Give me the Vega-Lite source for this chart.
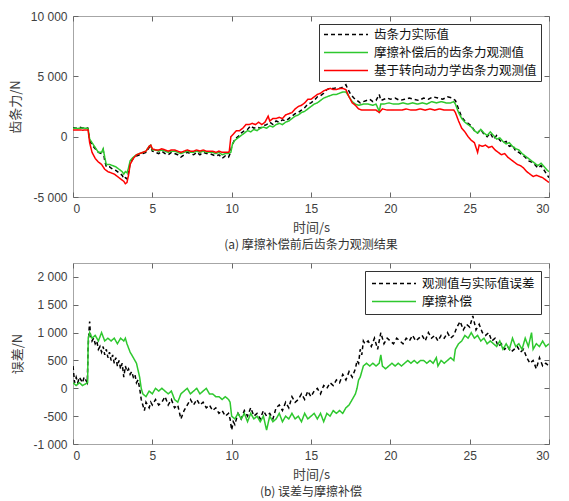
{
  "$schema": "https://vega.github.io/schema/vega-lite/v6.json",
  "padding": {"left": 8, "top": 9, "right": 17, "bottom": 5},
  "background": "white",
  "config": {
    "view": {"stroke": "#a6a6a6", "strokeWidth": 1},
    "axis": {
      "labelFont": "Liberation Sans", "labelFontSize": 12, "labelColor": "#404040",
      "titleFont": "Noto Sans CJK SC", "titleFontSize": 13, "titleFontWeight": "normal", "titleColor": "#404040",
      "domain": false, "grid": false, "tickColor": "#666666", "tickSize": -5, "labelPadding": 11
    },
    "title": {"font": "Noto Sans CJK SC", "fontSize": 12, "fontWeight": "normal", "color": "#333333", "orient": "bottom", "offset": 6},
    "legend": {"labelFont": "Noto Sans CJK SC", "labelFontSize": 12.5, "labelColor": "#111111", "labelLimit": 400}
  },
  "datasets": {
    "top": [
      {"t":0,"v":750,"s":"齿条力实际值"},{"t":0.2,"v":700,"s":"齿条力实际值"},{"t":0.4,"v":780,"s":"齿条力实际值"},{"t":0.6,"v":720,"s":"齿条力实际值"},{"t":0.8,"v":760,"s":"齿条力实际值"},{"t":0.95,"v":700,"s":"齿条力实际值"},{"t":1.05,"v":-300,"s":"齿条力实际值"},{"t":1.2,"v":-700,"s":"齿条力实际值"},{"t":1.4,"v":-1000,"s":"齿条力实际值"},{"t":1.6,"v":-1300,"s":"齿条力实际值"},{"t":1.8,"v":-1400,"s":"齿条力实际值"},{"t":1.9,"v":-1100,"s":"齿条力实际值"},{"t":2.0,"v":-2000,"s":"齿条力实际值"},{"t":2.1,"v":-2500,"s":"齿条力实际值"},{"t":2.3,"v":-2500,"s":"齿条力实际值"},{"t":2.5,"v":-2700,"s":"齿条力实际值"},{"t":2.7,"v":-2800,"s":"齿条力实际值"},{"t":2.9,"v":-3000,"s":"齿条力实际值"},{"t":3.1,"v":-3200,"s":"齿条力实际值"},{"t":3.2,"v":-3500,"s":"齿条力实际值"},{"t":3.3,"v":-3400,"s":"齿条力实际值"},{"t":3.4,"v":-3500,"s":"齿条力实际值"},{"t":3.5,"v":-3000,"s":"齿条力实际值"},{"t":3.6,"v":-2200,"s":"齿条力实际值"},{"t":3.8,"v":-1800,"s":"齿条力实际值"},{"t":4.0,"v":-1600,"s":"齿条力实际值"},{"t":4.2,"v":-1500,"s":"齿条力实际值"},{"t":4.4,"v":-1400,"s":"齿条力实际值"},{"t":4.6,"v":-1300,"s":"齿条力实际值"},{"t":4.8,"v":-900,"s":"齿条力实际值"},{"t":4.9,"v":-800,"s":"齿条力实际值"},{"t":5.0,"v":-1200,"s":"齿条力实际值"},{"t":5.2,"v":-1300,"s":"齿条力实际值"},{"t":5.4,"v":-1400,"s":"齿条力实际值"},{"t":5.6,"v":-1200,"s":"齿条力实际值"},{"t":5.8,"v":-1400,"s":"齿条力实际值"},{"t":6.0,"v":-1500,"s":"齿条力实际值"},{"t":6.2,"v":-1300,"s":"齿条力实际值"},{"t":6.4,"v":-1400,"s":"齿条力实际值"},{"t":6.6,"v":-1500,"s":"齿条力实际值"},{"t":6.8,"v":-1700,"s":"齿条力实际值"},{"t":7.0,"v":-1500,"s":"齿条力实际值"},{"t":7.2,"v":-1300,"s":"齿条力实际值"},{"t":7.4,"v":-1400,"s":"齿条力实际值"},{"t":7.6,"v":-1500,"s":"齿条力实际值"},{"t":7.8,"v":-1300,"s":"齿条力实际值"},{"t":8.0,"v":-1500,"s":"齿条力实际值"},{"t":8.2,"v":-1300,"s":"齿条力实际值"},{"t":8.4,"v":-1400,"s":"齿条力实际值"},{"t":8.6,"v":-1400,"s":"齿条力实际值"},{"t":8.8,"v":-1500,"s":"齿条力实际值"},{"t":9.0,"v":-1600,"s":"齿条力实际值"},{"t":9.2,"v":-1500,"s":"齿条力实际值"},{"t":9.4,"v":-1800,"s":"齿条力实际值"},{"t":9.6,"v":-1600,"s":"齿条力实际值"},{"t":9.8,"v":-1700,"s":"齿条力实际值"},{"t":9.9,"v":-1400,"s":"齿条力实际值"},{"t":10.0,"v":-800,"s":"齿条力实际值"},{"t":10.2,"v":-200,"s":"齿条力实际值"},{"t":10.4,"v":0,"s":"齿条力实际值"},{"t":10.6,"v":300,"s":"齿条力实际值"},{"t":10.8,"v":500,"s":"齿条力实际值"},{"t":11.0,"v":600,"s":"齿条力实际值"},{"t":11.2,"v":900,"s":"齿条力实际值"},{"t":11.4,"v":700,"s":"齿条力实际值"},{"t":11.6,"v":800,"s":"齿条力实际值"},{"t":11.8,"v":700,"s":"齿条力实际值"},{"t":12.0,"v":900,"s":"齿条力实际值"},{"t":12.2,"v":1000,"s":"齿条力实际值"},{"t":12.4,"v":1200,"s":"齿条力实际值"},{"t":12.6,"v":1000,"s":"齿条力实际值"},{"t":12.8,"v":1300,"s":"齿条力实际值"},{"t":13.0,"v":1200,"s":"齿条力实际值"},{"t":13.2,"v":1400,"s":"齿条力实际值"},{"t":13.4,"v":1300,"s":"齿条力实际值"},{"t":13.6,"v":1500,"s":"齿条力实际值"},{"t":13.8,"v":1700,"s":"齿条力实际值"},{"t":14.0,"v":1900,"s":"齿条力实际值"},{"t":14.2,"v":2000,"s":"齿条力实际值"},{"t":14.4,"v":2200,"s":"齿条力实际值"},{"t":14.6,"v":2400,"s":"齿条力实际值"},{"t":14.8,"v":2700,"s":"齿条力实际值"},{"t":15.0,"v":2800,"s":"齿条力实际值"},{"t":15.2,"v":3000,"s":"齿条力实际值"},{"t":15.4,"v":3300,"s":"齿条力实际值"},{"t":15.6,"v":3400,"s":"齿条力实际值"},{"t":15.8,"v":3600,"s":"齿条力实际值"},{"t":16.0,"v":3900,"s":"齿条力实际值"},{"t":16.2,"v":4000,"s":"齿条力实际值"},{"t":16.4,"v":4000,"s":"齿条力实际值"},{"t":16.6,"v":4050,"s":"齿条力实际值"},{"t":16.8,"v":4000,"s":"齿条力实际值"},{"t":17.0,"v":4100,"s":"齿条力实际值"},{"t":17.2,"v":4300,"s":"齿条力实际值"},{"t":17.3,"v":4000,"s":"齿条力实际值"},{"t":17.5,"v":3500,"s":"齿条力实际值"},{"t":17.7,"v":3200,"s":"齿条力实际值"},{"t":17.9,"v":3000,"s":"齿条力实际值"},{"t":18.1,"v":2800,"s":"齿条力实际值"},{"t":18.3,"v":2900,"s":"齿条力实际值"},{"t":18.5,"v":3000,"s":"齿条力实际值"},{"t":18.7,"v":3100,"s":"齿条力实际值"},{"t":18.9,"v":2900,"s":"齿条力实际值"},{"t":19.1,"v":3000,"s":"齿条力实际值"},{"t":19.3,"v":3500,"s":"齿条力实际值"},{"t":19.4,"v":3000,"s":"齿条力实际值"},{"t":19.6,"v":3100,"s":"齿条力实际值"},{"t":19.8,"v":3200,"s":"齿条力实际值"},{"t":20.0,"v":3100,"s":"齿条力实际值"},{"t":20.3,"v":3200,"s":"齿条力实际值"},{"t":20.6,"v":3000,"s":"齿条力实际值"},{"t":20.9,"v":3100,"s":"齿条力实际值"},{"t":21.2,"v":3200,"s":"齿条力实际值"},{"t":21.5,"v":3100,"s":"齿条力实际值"},{"t":21.8,"v":3000,"s":"齿条力实际值"},{"t":22.1,"v":3200,"s":"齿条力实际值"},{"t":22.4,"v":3100,"s":"齿条力实际值"},{"t":22.7,"v":3300,"s":"齿条力实际值"},{"t":23.0,"v":3200,"s":"齿条力实际值"},{"t":23.3,"v":3100,"s":"齿条力实际值"},{"t":23.6,"v":3300,"s":"齿条力实际值"},{"t":23.9,"v":3200,"s":"齿条力实际值"},{"t":24.1,"v":3000,"s":"齿条力实际值"},{"t":24.3,"v":2300,"s":"齿条力实际值"},{"t":24.5,"v":1600,"s":"齿条力实际值"},{"t":24.7,"v":1300,"s":"齿条力实际值"},{"t":24.9,"v":1100,"s":"齿条力实际值"},{"t":25.1,"v":900,"s":"齿条力实际值"},{"t":25.3,"v":500,"s":"齿条力实际值"},{"t":25.5,"v":300,"s":"齿条力实际值"},{"t":25.7,"v":600,"s":"齿条力实际值"},{"t":25.9,"v":200,"s":"齿条力实际值"},{"t":26.1,"v":0,"s":"齿条力实际值"},{"t":26.3,"v":300,"s":"齿条力实际值"},{"t":26.5,"v":-200,"s":"齿条力实际值"},{"t":26.7,"v":100,"s":"齿条力实际值"},{"t":26.9,"v":-300,"s":"齿条力实际值"},{"t":27.1,"v":-500,"s":"齿条力实际值"},{"t":27.3,"v":-400,"s":"齿条力实际值"},{"t":27.5,"v":-800,"s":"齿条力实际值"},{"t":27.7,"v":-700,"s":"齿条力实际值"},{"t":27.9,"v":-1200,"s":"齿条力实际值"},{"t":28.1,"v":-1300,"s":"齿条力实际值"},{"t":28.3,"v":-1500,"s":"齿条力实际值"},{"t":28.5,"v":-1700,"s":"齿条力实际值"},{"t":28.7,"v":-2000,"s":"齿条力实际值"},{"t":28.9,"v":-2100,"s":"齿条力实际值"},{"t":29.1,"v":-2300,"s":"齿条力实际值"},{"t":29.3,"v":-2600,"s":"齿条力实际值"},{"t":29.5,"v":-2400,"s":"齿条力实际值"},{"t":29.7,"v":-2800,"s":"齿条力实际值"},{"t":29.9,"v":-3200,"s":"齿条力实际值"},{"t":30.0,"v":-3400,"s":"齿条力实际值"},

      {"t":0,"v":700,"s":"摩擦补偿后的齿条力观测值"},{"t":0.3,"v":680,"s":"摩擦补偿后的齿条力观测值"},{"t":0.6,"v":720,"s":"摩擦补偿后的齿条力观测值"},{"t":0.95,"v":680,"s":"摩擦补偿后的齿条力观测值"},{"t":1.05,"v":-200,"s":"摩擦补偿后的齿条力观测值"},{"t":1.2,"v":-500,"s":"摩擦补偿后的齿条力观测值"},{"t":1.4,"v":-900,"s":"摩擦补偿后的齿条力观测值"},{"t":1.6,"v":-1300,"s":"摩擦补偿后的齿条力观测值"},{"t":1.8,"v":-1300,"s":"摩擦补偿后的齿条力观测值"},{"t":1.9,"v":-1000,"s":"摩擦补偿后的齿条力观测值"},{"t":2.0,"v":-1700,"s":"摩擦补偿后的齿条力观测值"},{"t":2.1,"v":-2300,"s":"摩擦补偿后的齿条力观测值"},{"t":2.3,"v":-2300,"s":"摩擦补偿后的齿条力观测值"},{"t":2.5,"v":-2400,"s":"摩擦补偿后的齿条力观测值"},{"t":2.7,"v":-2500,"s":"摩擦补偿后的齿条力观测值"},{"t":2.9,"v":-2700,"s":"摩擦补偿后的齿条力观测值"},{"t":3.1,"v":-2900,"s":"摩擦补偿后的齿条力观测值"},{"t":3.2,"v":-3100,"s":"摩擦补偿后的齿条力观测值"},{"t":3.3,"v":-2900,"s":"摩擦补偿后的齿条力观测值"},{"t":3.4,"v":-3000,"s":"摩擦补偿后的齿条力观测值"},{"t":3.5,"v":-2600,"s":"摩擦补偿后的齿条力观测值"},{"t":3.6,"v":-2000,"s":"摩擦补偿后的齿条力观测值"},{"t":3.8,"v":-1700,"s":"摩擦补偿后的齿条力观测值"},{"t":4.0,"v":-1500,"s":"摩擦补偿后的齿条力观测值"},{"t":4.2,"v":-1400,"s":"摩擦补偿后的齿条力观测值"},{"t":4.4,"v":-1300,"s":"摩擦补偿后的齿条力观测值"},{"t":4.6,"v":-1200,"s":"摩擦补偿后的齿条力观测值"},{"t":4.8,"v":-800,"s":"摩擦补偿后的齿条力观测值"},{"t":4.9,"v":-700,"s":"摩擦补偿后的齿条力观测值"},{"t":5.0,"v":-1100,"s":"摩擦补偿后的齿条力观测值"},{"t":5.2,"v":-1100,"s":"摩擦补偿后的齿条力观测值"},{"t":5.4,"v":-1200,"s":"摩擦补偿后的齿条力观测值"},{"t":5.6,"v":-1100,"s":"摩擦补偿后的齿条力观测值"},{"t":5.8,"v":-1200,"s":"摩擦补偿后的齿条力观测值"},{"t":6.0,"v":-1300,"s":"摩擦补偿后的齿条力观测值"},{"t":6.2,"v":-1200,"s":"摩擦补偿后的齿条力观测值"},{"t":6.4,"v":-1200,"s":"摩擦补偿后的齿条力观测值"},{"t":6.6,"v":-1300,"s":"摩擦补偿后的齿条力观测值"},{"t":6.8,"v":-1400,"s":"摩擦补偿后的齿条力观测值"},{"t":7.0,"v":-1300,"s":"摩擦补偿后的齿条力观测值"},{"t":7.2,"v":-1200,"s":"摩擦补偿后的齿条力观测值"},{"t":7.4,"v":-1300,"s":"摩擦补偿后的齿条力观测值"},{"t":7.6,"v":-1300,"s":"摩擦补偿后的齿条力观测值"},{"t":7.8,"v":-1200,"s":"摩擦补偿后的齿条力观测值"},{"t":8.0,"v":-1300,"s":"摩擦补偿后的齿条力观测值"},{"t":8.2,"v":-1200,"s":"摩擦补偿后的齿条力观测值"},{"t":8.4,"v":-1300,"s":"摩擦补偿后的齿条力观测值"},{"t":8.6,"v":-1300,"s":"摩擦补偿后的齿条力观测值"},{"t":8.8,"v":-1300,"s":"摩擦补偿后的齿条力观测值"},{"t":9.0,"v":-1400,"s":"摩擦补偿后的齿条力观测值"},{"t":9.2,"v":-1300,"s":"摩擦补偿后的齿条力观测值"},{"t":9.4,"v":-1500,"s":"摩擦补偿后的齿条力观测值"},{"t":9.6,"v":-1400,"s":"摩擦补偿后的齿条力观测值"},{"t":9.8,"v":-1400,"s":"摩擦补偿后的齿条力观测值"},{"t":9.95,"v":-1300,"s":"摩擦补偿后的齿条力观测值"},{"t":10.05,"v":-600,"s":"摩擦补偿后的齿条力观测值"},{"t":10.2,"v":-300,"s":"摩擦补偿后的齿条力观测值"},{"t":10.4,"v":-100,"s":"摩擦补偿后的齿条力观测值"},{"t":10.6,"v":100,"s":"摩擦补偿后的齿条力观测值"},{"t":10.8,"v":300,"s":"摩擦补偿后的齿条力观测值"},{"t":11.0,"v":500,"s":"摩擦补偿后的齿条力观测值"},{"t":11.2,"v":400,"s":"摩擦补偿后的齿条力观测值"},{"t":11.4,"v":600,"s":"摩擦补偿后的齿条力观测值"},{"t":11.6,"v":500,"s":"摩擦补偿后的齿条力观测值"},{"t":11.8,"v":700,"s":"摩擦补偿后的齿条力观测值"},{"t":12.0,"v":800,"s":"摩擦补偿后的齿条力观测值"},{"t":12.2,"v":700,"s":"摩擦补偿后的齿条力观测值"},{"t":12.4,"v":900,"s":"摩擦补偿后的齿条力观测值"},{"t":12.6,"v":800,"s":"摩擦补偿后的齿条力观测值"},{"t":12.8,"v":1000,"s":"摩擦补偿后的齿条力观测值"},{"t":13.0,"v":1100,"s":"摩擦补偿后的齿条力观测值"},{"t":13.2,"v":1000,"s":"摩擦补偿后的齿条力观测值"},{"t":13.4,"v":1200,"s":"摩擦补偿后的齿条力观测值"},{"t":13.6,"v":1300,"s":"摩擦补偿后的齿条力观测值"},{"t":13.8,"v":1500,"s":"摩擦补偿后的齿条力观测值"},{"t":14.0,"v":1700,"s":"摩擦补偿后的齿条力观测值"},{"t":14.2,"v":1800,"s":"摩擦补偿后的齿条力观测值"},{"t":14.4,"v":2000,"s":"摩擦补偿后的齿条力观测值"},{"t":14.6,"v":2100,"s":"摩擦补偿后的齿条力观测值"},{"t":14.8,"v":2300,"s":"摩擦补偿后的齿条力观测值"},{"t":15.0,"v":2500,"s":"摩擦补偿后的齿条力观测值"},{"t":15.2,"v":2700,"s":"摩擦补偿后的齿条力观测值"},{"t":15.4,"v":2800,"s":"摩擦补偿后的齿条力观测值"},{"t":15.6,"v":3000,"s":"摩擦补偿后的齿条力观测值"},{"t":15.8,"v":3200,"s":"摩擦补偿后的齿条力观测值"},{"t":16.0,"v":3300,"s":"摩擦补偿后的齿条力观测值"},{"t":16.2,"v":3400,"s":"摩擦补偿后的齿条力观测值"},{"t":16.4,"v":3500,"s":"摩擦补偿后的齿条力观测值"},{"t":16.6,"v":3500,"s":"摩擦补偿后的齿条力观测值"},{"t":16.8,"v":3600,"s":"摩擦补偿后的齿条力观测值"},{"t":17.0,"v":3700,"s":"摩擦补偿后的齿条力观测值"},{"t":17.2,"v":3700,"s":"摩擦补偿后的齿条力观测值"},{"t":17.4,"v":3300,"s":"摩擦补偿后的齿条力观测值"},{"t":17.6,"v":2900,"s":"摩擦补偿后的齿条力观测值"},{"t":17.8,"v":2700,"s":"摩擦补偿后的齿条力观测值"},{"t":18.0,"v":2600,"s":"摩擦补偿后的齿条力观测值"},{"t":18.3,"v":2700,"s":"摩擦补偿后的齿条力观测值"},{"t":18.6,"v":2700,"s":"摩擦补偿后的齿条力观测值"},{"t":18.9,"v":2600,"s":"摩擦补偿后的齿条力观测值"},{"t":19.1,"v":2700,"s":"摩擦补偿后的齿条力观测值"},{"t":19.3,"v":2100,"s":"摩擦补偿后的齿条力观测值"},{"t":19.4,"v":2700,"s":"摩擦补偿后的齿条力观测值"},{"t":19.6,"v":2700,"s":"摩擦补偿后的齿条力观测值"},{"t":19.9,"v":2800,"s":"摩擦补偿后的齿条力观测值"},{"t":20.2,"v":2700,"s":"摩擦补偿后的齿条力观测值"},{"t":20.5,"v":2700,"s":"摩擦补偿后的齿条力观测值"},{"t":20.8,"v":2800,"s":"摩擦补偿后的齿条力观测值"},{"t":21.1,"v":2700,"s":"摩擦补偿后的齿条力观测值"},{"t":21.4,"v":2800,"s":"摩擦补偿后的齿条力观测值"},{"t":21.7,"v":2700,"s":"摩擦补偿后的齿条力观测值"},{"t":22.0,"v":2800,"s":"摩擦补偿后的齿条力观测值"},{"t":22.3,"v":2700,"s":"摩擦补偿后的齿条力观测值"},{"t":22.6,"v":2900,"s":"摩擦补偿后的齿条力观测值"},{"t":22.9,"v":2800,"s":"摩擦补偿后的齿条力观测值"},{"t":23.2,"v":2900,"s":"摩擦补偿后的齿条力观测值"},{"t":23.5,"v":2800,"s":"摩擦补偿后的齿条力观测值"},{"t":23.8,"v":2800,"s":"摩擦补偿后的齿条力观测值"},{"t":24.0,"v":2900,"s":"摩擦补偿后的齿条力观测值"},{"t":24.1,"v":2700,"s":"摩擦补偿后的齿条力观测值"},{"t":24.3,"v":2000,"s":"摩擦补偿后的齿条力观测值"},{"t":24.5,"v":1500,"s":"摩擦补偿后的齿条力观测值"},{"t":24.7,"v":1200,"s":"摩擦补偿后的齿条力观测值"},{"t":24.9,"v":1000,"s":"摩擦补偿后的齿条力观测值"},{"t":25.1,"v":800,"s":"摩擦补偿后的齿条力观测值"},{"t":25.3,"v":500,"s":"摩擦补偿后的齿条力观测值"},{"t":25.5,"v":300,"s":"摩擦补偿后的齿条力观测值"},{"t":25.7,"v":600,"s":"摩擦补偿后的齿条力观测值"},{"t":25.9,"v":300,"s":"摩擦补偿后的齿条力观测值"},{"t":26.1,"v":100,"s":"摩擦补偿后的齿条力观测值"},{"t":26.3,"v":400,"s":"摩擦补偿后的齿条力观测值"},{"t":26.5,"v":100,"s":"摩擦补偿后的齿条力观测值"},{"t":26.7,"v":-200,"s":"摩擦补偿后的齿条力观测值"},{"t":26.9,"v":-100,"s":"摩擦补偿后的齿条力观测值"},{"t":27.1,"v":-400,"s":"摩擦补偿后的齿条力观测值"},{"t":27.3,"v":-600,"s":"摩擦补偿后的齿条力观测值"},{"t":27.5,"v":-500,"s":"摩擦补偿后的齿条力观测值"},{"t":27.7,"v":-800,"s":"摩擦补偿后的齿条力观测值"},{"t":27.9,"v":-1000,"s":"摩擦补偿后的齿条力观测值"},{"t":28.1,"v":-1100,"s":"摩擦补偿后的齿条力观测值"},{"t":28.3,"v":-1400,"s":"摩擦补偿后的齿条力观测值"},{"t":28.5,"v":-1600,"s":"摩擦补偿后的齿条力观测值"},{"t":28.7,"v":-1800,"s":"摩擦补偿后的齿条力观测值"},{"t":28.9,"v":-2000,"s":"摩擦补偿后的齿条力观测值"},{"t":29.1,"v":-2200,"s":"摩擦补偿后的齿条力观测值"},{"t":29.3,"v":-2400,"s":"摩擦补偿后的齿条力观测值"},{"t":29.5,"v":-2200,"s":"摩擦补偿后的齿条力观测值"},{"t":29.7,"v":-2500,"s":"摩擦补偿后的齿条力观测值"},{"t":29.9,"v":-2800,"s":"摩擦补偿后的齿条力观测值"},{"t":30.0,"v":-2900,"s":"摩擦补偿后的齿条力观测值"},

      {"t":0,"v":550,"s":"基于转向动力学齿条力观测值"},{"t":0.3,"v":560,"s":"基于转向动力学齿条力观测值"},{"t":0.6,"v":540,"s":"基于转向动力学齿条力观测值"},{"t":0.95,"v":550,"s":"基于转向动力学齿条力观测值"},{"t":1.05,"v":-500,"s":"基于转向动力学齿条力观测值"},{"t":1.2,"v":-1300,"s":"基于转向动力学齿条力观测值"},{"t":1.4,"v":-1800,"s":"基于转向动力学齿条力观测值"},{"t":1.6,"v":-2100,"s":"基于转向动力学齿条力观测值"},{"t":1.8,"v":-2300,"s":"基于转向动力学齿条力观测值"},{"t":2.0,"v":-2700,"s":"基于转向动力学齿条力观测值"},{"t":2.2,"v":-2900,"s":"基于转向动力学齿条力观测值"},{"t":2.4,"v":-3000,"s":"基于转向动力学齿条力观测值"},{"t":2.6,"v":-3100,"s":"基于转向动力学齿条力观测值"},{"t":2.8,"v":-3300,"s":"基于转向动力学齿条力观测值"},{"t":3.0,"v":-3500,"s":"基于转向动力学齿条力观测值"},{"t":3.2,"v":-3700,"s":"基于转向动力学齿条力观测值"},{"t":3.3,"v":-3900,"s":"基于转向动力学齿条力观测值"},{"t":3.4,"v":-3800,"s":"基于转向动力学齿条力观测值"},{"t":3.5,"v":-3200,"s":"基于转向动力学齿条力观测值"},{"t":3.6,"v":-2300,"s":"基于转向动力学齿条力观测值"},{"t":3.8,"v":-1800,"s":"基于转向动力学齿条力观测值"},{"t":4.0,"v":-1500,"s":"基于转向动力学齿条力观测值"},{"t":4.2,"v":-1400,"s":"基于转向动力学齿条力观测值"},{"t":4.4,"v":-1300,"s":"基于转向动力学齿条力观测值"},{"t":4.6,"v":-1200,"s":"基于转向动力学齿条力观测值"},{"t":4.8,"v":-800,"s":"基于转向动力学齿条力观测值"},{"t":4.9,"v":-700,"s":"基于转向动力学齿条力观测值"},{"t":5.0,"v":-1000,"s":"基于转向动力学齿条力观测值"},{"t":5.2,"v":-1100,"s":"基于转向动力学齿条力观测值"},{"t":5.4,"v":-1100,"s":"基于转向动力学齿条力观测值"},{"t":5.6,"v":-1000,"s":"基于转向动力学齿条力观测值"},{"t":5.8,"v":-1100,"s":"基于转向动力学齿条力观测值"},{"t":6.0,"v":-1200,"s":"基于转向动力学齿条力观测值"},{"t":6.2,"v":-1100,"s":"基于转向动力学齿条力观测值"},{"t":6.4,"v":-1100,"s":"基于转向动力学齿条力观测值"},{"t":6.6,"v":-1200,"s":"基于转向动力学齿条力观测值"},{"t":6.8,"v":-1300,"s":"基于转向动力学齿条力观测值"},{"t":7.0,"v":-1200,"s":"基于转向动力学齿条力观测值"},{"t":7.2,"v":-1100,"s":"基于转向动力学齿条力观测值"},{"t":7.4,"v":-1200,"s":"基于转向动力学齿条力观测值"},{"t":7.6,"v":-1200,"s":"基于转向动力学齿条力观测值"},{"t":7.8,"v":-1100,"s":"基于转向动力学齿条力观测值"},{"t":8.0,"v":-1200,"s":"基于转向动力学齿条力观测值"},{"t":8.2,"v":-1100,"s":"基于转向动力学齿条力观测值"},{"t":8.4,"v":-1200,"s":"基于转向动力学齿条力观测值"},{"t":8.6,"v":-1200,"s":"基于转向动力学齿条力观测值"},{"t":8.8,"v":-1200,"s":"基于转向动力学齿条力观测值"},{"t":9.0,"v":-1300,"s":"基于转向动力学齿条力观测值"},{"t":9.2,"v":-1200,"s":"基于转向动力学齿条力观测值"},{"t":9.4,"v":-1300,"s":"基于转向动力学齿条力观测值"},{"t":9.6,"v":-1300,"s":"基于转向动力学齿条力观测值"},{"t":9.8,"v":-1300,"s":"基于转向动力学齿条力观测值"},{"t":9.85,"v":-1200,"s":"基于转向动力学齿条力观测值"},{"t":9.95,"v":0,"s":"基于转向动力学齿条力观测值"},{"t":10.1,"v":200,"s":"基于转向动力学齿条力观测值"},{"t":10.3,"v":500,"s":"基于转向动力学齿条力观测值"},{"t":10.5,"v":500,"s":"基于转向动力学齿条力观测值"},{"t":10.7,"v":700,"s":"基于转向动力学齿条力观测值"},{"t":10.9,"v":1000,"s":"基于转向动力学齿条力观测值"},{"t":11.1,"v":1000,"s":"基于转向动力学齿条力观测值"},{"t":11.3,"v":1100,"s":"基于转向动力学齿条力观测值"},{"t":11.5,"v":1000,"s":"基于转向动力学齿条力观测值"},{"t":11.7,"v":1200,"s":"基于转向动力学齿条力观测值"},{"t":11.9,"v":1000,"s":"基于转向动力学齿条力观测值"},{"t":12.1,"v":1200,"s":"基于转向动力学齿条力观测值"},{"t":12.3,"v":1700,"s":"基于转向动力学齿条力观测值"},{"t":12.4,"v":1300,"s":"基于转向动力学齿条力观测值"},{"t":12.6,"v":1500,"s":"基于转向动力学齿条力观测值"},{"t":12.8,"v":1500,"s":"基于转向动力学齿条力观测值"},{"t":13.0,"v":1600,"s":"基于转向动力学齿条力观测值"},{"t":13.2,"v":1500,"s":"基于转向动力学齿条力观测值"},{"t":13.4,"v":1800,"s":"基于转向动力学齿条力观测值"},{"t":13.6,"v":1900,"s":"基于转向动力学齿条力观测值"},{"t":13.8,"v":2000,"s":"基于转向动力学齿条力观测值"},{"t":14.0,"v":2300,"s":"基于转向动力学齿条力观测值"},{"t":14.2,"v":2500,"s":"基于转向动力学齿条力观测值"},{"t":14.4,"v":2600,"s":"基于转向动力学齿条力观测值"},{"t":14.6,"v":2800,"s":"基于转向动力学齿条力观测值"},{"t":14.8,"v":3100,"s":"基于转向动力学齿条力观测值"},{"t":15.0,"v":3100,"s":"基于转向动力学齿条力观测值"},{"t":15.2,"v":3300,"s":"基于转向动力学齿条力观测值"},{"t":15.4,"v":3500,"s":"基于转向动力学齿条力观测值"},{"t":15.6,"v":3600,"s":"基于转向动力学齿条力观测值"},{"t":15.8,"v":3800,"s":"基于转向动力学齿条力观测值"},{"t":16.0,"v":3900,"s":"基于转向动力学齿条力观测值"},{"t":16.2,"v":4000,"s":"基于转向动力学齿条力观测值"},{"t":16.4,"v":3900,"s":"基于转向动力学齿条力观测值"},{"t":16.6,"v":3900,"s":"基于转向动力学齿条力观测值"},{"t":16.8,"v":4000,"s":"基于转向动力学齿条力观测值"},{"t":17.0,"v":4000,"s":"基于转向动力学齿条力观测值"},{"t":17.2,"v":3900,"s":"基于转向动力学齿条力观测值"},{"t":17.4,"v":3300,"s":"基于转向动力学齿条力观测值"},{"t":17.6,"v":2800,"s":"基于转向动力学齿条力观测值"},{"t":17.8,"v":2600,"s":"基于转向动力学齿条力观测值"},{"t":18.0,"v":2300,"s":"基于转向动力学齿条力观测值"},{"t":18.2,"v":2200,"s":"基于转向动力学齿条力观测值"},{"t":18.5,"v":2200,"s":"基于转向动力学齿条力观测值"},{"t":18.8,"v":2200,"s":"基于转向动力学齿条力观测值"},{"t":19.1,"v":2200,"s":"基于转向动力学齿条力观测值"},{"t":19.3,"v":2000,"s":"基于转向动力学齿条力观测值"},{"t":19.5,"v":2300,"s":"基于转向动力学齿条力观测值"},{"t":19.8,"v":2200,"s":"基于转向动力学齿条力观测值"},{"t":20.1,"v":2200,"s":"基于转向动力学齿条力观测值"},{"t":20.4,"v":2200,"s":"基于转向动力学齿条力观测值"},{"t":20.7,"v":2200,"s":"基于转向动力学齿条力观测值"},{"t":21.0,"v":2300,"s":"基于转向动力学齿条力观测值"},{"t":21.3,"v":2200,"s":"基于转向动力学齿条力观测值"},{"t":21.6,"v":2200,"s":"基于转向动力学齿条力观测值"},{"t":21.9,"v":2300,"s":"基于转向动力学齿条力观测值"},{"t":22.2,"v":2200,"s":"基于转向动力学齿条力观测值"},{"t":22.5,"v":2300,"s":"基于转向动力学齿条力观测值"},{"t":22.8,"v":2200,"s":"基于转向动力学齿条力观测值"},{"t":23.1,"v":2300,"s":"基于转向动力学齿条力观测值"},{"t":23.4,"v":2200,"s":"基于转向动力学齿条力观测值"},{"t":23.7,"v":2200,"s":"基于转向动力学齿条力观测值"},{"t":24.0,"v":2200,"s":"基于转向动力学齿条力观测值"},{"t":24.1,"v":2000,"s":"基于转向动力学齿条力观测值"},{"t":24.3,"v":1300,"s":"基于转向动力学齿条力观测值"},{"t":24.5,"v":700,"s":"基于转向动力学齿条力观测值"},{"t":24.7,"v":400,"s":"基于转向动力学齿条力观测值"},{"t":24.9,"v":0,"s":"基于转向动力学齿条力观测值"},{"t":25.1,"v":-300,"s":"基于转向动力学齿条力观测值"},{"t":25.3,"v":-500,"s":"基于转向动力学齿条力观测值"},{"t":25.5,"v":-1300,"s":"基于转向动力学齿条力观测值"},{"t":25.6,"v":-700,"s":"基于转向动力学齿条力观测值"},{"t":25.8,"v":-800,"s":"基于转向动力学齿条力观测值"},{"t":26.0,"v":-700,"s":"基于转向动力学齿条力观测值"},{"t":26.2,"v":-900,"s":"基于转向动力学齿条力观测值"},{"t":26.4,"v":-800,"s":"基于转向动力学齿条力观测值"},{"t":26.6,"v":-1100,"s":"基于转向动力学齿条力观测值"},{"t":26.8,"v":-1300,"s":"基于转向动力学齿条力观测值"},{"t":27.0,"v":-1500,"s":"基于转向动力学齿条力观测值"},{"t":27.2,"v":-1400,"s":"基于转向动力学齿条力观测值"},{"t":27.4,"v":-1700,"s":"基于转向动力学齿条力观测值"},{"t":27.6,"v":-1900,"s":"基于转向动力学齿条力观测值"},{"t":27.8,"v":-2100,"s":"基于转向动力学齿条力观测值"},{"t":28.0,"v":-2300,"s":"基于转向动力学齿条力观测值"},{"t":28.2,"v":-2400,"s":"基于转向动力学齿条力观测值"},{"t":28.4,"v":-2600,"s":"基于转向动力学齿条力观测值"},{"t":28.6,"v":-2900,"s":"基于转向动力学齿条力观测值"},{"t":28.8,"v":-3100,"s":"基于转向动力学齿条力观测值"},{"t":29.0,"v":-3300,"s":"基于转向动力学齿条力观测值"},{"t":29.2,"v":-3200,"s":"基于转向动力学齿条力观测值"},{"t":29.4,"v":-3300,"s":"基于转向动力学齿条力观测值"},{"t":29.6,"v":-3400,"s":"基于转向动力学齿条力观测值"},{"t":29.8,"v":-3600,"s":"基于转向动力学齿条力观测值"},{"t":30.0,"v":-3800,"s":"基于转向动力学齿条力观测值"}
    ],
    "bottom": [
      {"t":0,"v":400,"s":"观测值与实际值误差"},{"t":0.1,"v":100,"s":"观测值与实际值误差"},{"t":0.2,"v":200,"s":"观测值与实际值误差"},{"t":0.3,"v":100,"s":"观测值与实际值误差"},{"t":0.4,"v":200,"s":"观测值与实际值误差"},{"t":0.5,"v":150,"s":"观测值与实际值误差"},{"t":0.6,"v":100,"s":"观测值与实际值误差"},{"t":0.7,"v":200,"s":"观测值与实际值误差"},{"t":0.8,"v":150,"s":"观测值与实际值误差"},{"t":0.9,"v":100,"s":"观测值与实际值误差"},{"t":0.95,"v":700,"s":"观测值与实际值误差"},{"t":1.0,"v":1000,"s":"观测值与实际值误差"},{"t":1.05,"v":1200,"s":"观测值与实际值误差"},{"t":1.1,"v":950,"s":"观测值与实际值误差"},{"t":1.2,"v":850,"s":"观测值与实际值误差"},{"t":1.3,"v":900,"s":"观测值与实际值误差"},{"t":1.4,"v":800,"s":"观测值与实际值误差"},{"t":1.5,"v":850,"s":"观测值与实际值误差"},{"t":1.6,"v":700,"s":"观测值与实际值误差"},{"t":1.7,"v":750,"s":"观测值与实际值误差"},{"t":1.8,"v":650,"s":"观测值与实际值误差"},{"t":1.9,"v":750,"s":"观测值与实际值误差"},{"t":2.0,"v":600,"s":"观测值与实际值误差"},{"t":2.1,"v":700,"s":"观测值与实际值误差"},{"t":2.2,"v":550,"s":"观测值与实际值误差"},{"t":2.3,"v":650,"s":"观测值与实际值误差"},{"t":2.4,"v":500,"s":"观测值与实际值误差"},{"t":2.5,"v":600,"s":"观测值与实际值误差"},{"t":2.6,"v":450,"s":"观测值与实际值误差"},{"t":2.7,"v":550,"s":"观测值与实际值误差"},{"t":2.8,"v":400,"s":"观测值与实际值误差"},{"t":2.9,"v":500,"s":"观测值与实际值误差"},{"t":3.0,"v":350,"s":"观测值与实际值误差"},{"t":3.1,"v":450,"s":"观测值与实际值误差"},{"t":3.2,"v":200,"s":"观测值与实际值误差"},{"t":3.3,"v":400,"s":"观测值与实际值误差"},{"t":3.4,"v":300,"s":"观测值与实际值误差"},{"t":3.5,"v":350,"s":"观测值与实际值误差"},{"t":3.6,"v":250,"s":"观测值与实际值误差"},{"t":3.7,"v":300,"s":"观测值与实际值误差"},{"t":3.8,"v":200,"s":"观测值与实际值误差"},{"t":3.9,"v":250,"s":"观测值与实际值误差"},{"t":4.0,"v":100,"s":"观测值与实际值误差"},{"t":4.1,"v":150,"s":"观测值与实际值误差"},{"t":4.2,"v":0,"s":"观测值与实际值误差"},{"t":4.3,"v":-200,"s":"观测值与实际值误差"},{"t":4.4,"v":-300,"s":"观测值与实际值误差"},{"t":4.5,"v":-400,"s":"观测值与实际值误差"},{"t":4.6,"v":-250,"s":"观测值与实际值误差"},{"t":4.7,"v":-300,"s":"观测值与实际值误差"},{"t":4.8,"v":-350,"s":"观测值与实际值误差"},{"t":4.9,"v":-250,"s":"观测值与实际值误差"},{"t":5.0,"v":-300,"s":"观测值与实际值误差"},{"t":5.2,"v":-200,"s":"观测值与实际值误差"},{"t":5.4,"v":-300,"s":"观测值与实际值误差"},{"t":5.6,"v":-250,"s":"观测值与实际值误差"},{"t":5.8,"v":-150,"s":"观测值与实际值误差"},{"t":6.0,"v":-300,"s":"观测值与实际值误差"},{"t":6.2,"v":-200,"s":"观测值与实际值误差"},{"t":6.4,"v":-350,"s":"观测值与实际值误差"},{"t":6.6,"v":-300,"s":"观测值与实际值误差"},{"t":6.8,"v":-550,"s":"观测值与实际值误差"},{"t":7.0,"v":-400,"s":"观测值与实际值误差"},{"t":7.2,"v":-300,"s":"观测值与实际值误差"},{"t":7.4,"v":-200,"s":"观测值与实际值误差"},{"t":7.6,"v":-300,"s":"观测值与实际值误差"},{"t":7.8,"v":-200,"s":"观测值与实际值误差"},{"t":8.0,"v":-300,"s":"观测值与实际值误差"},{"t":8.2,"v":-250,"s":"观测值与实际值误差"},{"t":8.4,"v":-350,"s":"观测值与实际值误差"},{"t":8.6,"v":-300,"s":"观测值与实际值误差"},{"t":8.8,"v":-400,"s":"观测值与实际值误差"},{"t":9.0,"v":-350,"s":"观测值与实际值误差"},{"t":9.2,"v":-450,"s":"观测值与实际值误差"},{"t":9.4,"v":-400,"s":"观测值与实际值误差"},{"t":9.6,"v":-500,"s":"观测值与实际值误差"},{"t":9.8,"v":-450,"s":"观测值与实际值误差"},{"t":9.9,"v":-550,"s":"观测值与实际值误差"},{"t":10.0,"v":-750,"s":"观测值与实际值误差"},{"t":10.1,"v":-600,"s":"观测值与实际值误差"},{"t":10.2,"v":-650,"s":"观测值与实际值误差"},{"t":10.4,"v":-450,"s":"观测值与实际值误差"},{"t":10.6,"v":-550,"s":"观测值与实际值误差"},{"t":10.8,"v":-400,"s":"观测值与实际值误差"},{"t":11.0,"v":-500,"s":"观测值与实际值误差"},{"t":11.2,"v":-350,"s":"观测值与实际值误差"},{"t":11.4,"v":-500,"s":"观测值与实际值误差"},{"t":11.6,"v":-450,"s":"观测值与实际值误差"},{"t":11.8,"v":-550,"s":"观测值与实际值误差"},{"t":12.0,"v":-400,"s":"观测值与实际值误差"},{"t":12.2,"v":-500,"s":"观测值与实际值误差"},{"t":12.4,"v":-450,"s":"观测值与实际值误差"},{"t":12.6,"v":-550,"s":"观测值与实际值误差"},{"t":12.8,"v":-350,"s":"观测值与实际值误差"},{"t":13.0,"v":-300,"s":"观测值与实际值误差"},{"t":13.2,"v":-400,"s":"观测值与实际值误差"},{"t":13.4,"v":-250,"s":"观测值与实际值误差"},{"t":13.6,"v":-350,"s":"观测值与实际值误差"},{"t":13.8,"v":-150,"s":"观测值与实际值误差"},{"t":14.0,"v":-250,"s":"观测值与实际值误差"},{"t":14.2,"v":-200,"s":"观测值与实际值误差"},{"t":14.4,"v":-100,"s":"观测值与实际值误差"},{"t":14.6,"v":-200,"s":"观测值与实际值误差"},{"t":14.8,"v":-50,"s":"观测值与实际值误差"},{"t":15.0,"v":-150,"s":"观测值与实际值误差"},{"t":15.2,"v":-50,"s":"观测值与实际值误差"},{"t":15.4,"v":0,"s":"观测值与实际值误差"},{"t":15.6,"v":-100,"s":"观测值与实际值误差"},{"t":15.8,"v":50,"s":"观测值与实际值误差"},{"t":16.0,"v":0,"s":"观测值与实际值误差"},{"t":16.2,"v":100,"s":"观测值与实际值误差"},{"t":16.4,"v":50,"s":"观测值与实际值误差"},{"t":16.6,"v":150,"s":"观测值与实际值误差"},{"t":16.8,"v":100,"s":"观测值与实际值误差"},{"t":17.0,"v":250,"s":"观测值与实际值误差"},{"t":17.2,"v":150,"s":"观测值与实际值误差"},{"t":17.4,"v":300,"s":"观测值与实际值误差"},{"t":17.6,"v":200,"s":"观测值与实际值误差"},{"t":17.8,"v":350,"s":"观测值与实际值误差"},{"t":17.9,"v":500,"s":"观测值与实际值误差"},{"t":18.0,"v":450,"s":"观测值与实际值误差"},{"t":18.1,"v":700,"s":"观测值与实际值误差"},{"t":18.2,"v":600,"s":"观测值与实际值误差"},{"t":18.3,"v":850,"s":"观测值与实际值误差"},{"t":18.4,"v":800,"s":"观测值与实际值误差"},{"t":18.6,"v":850,"s":"观测值与实际值误差"},{"t":18.8,"v":750,"s":"观测值与实际值误差"},{"t":19.0,"v":900,"s":"观测值与实际值误差"},{"t":19.2,"v":700,"s":"观测值与实际值误差"},{"t":19.4,"v":1000,"s":"观测值与实际值误差"},{"t":19.6,"v":800,"s":"观测值与实际值误差"},{"t":19.8,"v":900,"s":"观测值与实际值误差"},{"t":20.0,"v":850,"s":"观测值与实际值误差"},{"t":20.2,"v":800,"s":"观测值与实际值误差"},{"t":20.4,"v":900,"s":"观测值与实际值误差"},{"t":20.6,"v":850,"s":"观测值与实际值误差"},{"t":20.8,"v":800,"s":"观测值与实际值误差"},{"t":21.0,"v":900,"s":"观测值与实际值误差"},{"t":21.2,"v":850,"s":"观测值与实际值误差"},{"t":21.4,"v":950,"s":"观测值与实际值误差"},{"t":21.6,"v":850,"s":"观测值与实际值误差"},{"t":21.8,"v":900,"s":"观测值与实际值误差"},{"t":22.0,"v":950,"s":"观测值与实际值误差"},{"t":22.2,"v":850,"s":"观测值与实际值误差"},{"t":22.4,"v":1000,"s":"观测值与实际值误差"},{"t":22.6,"v":900,"s":"观测值与实际值误差"},{"t":22.8,"v":950,"s":"观测值与实际值误差"},{"t":23.0,"v":850,"s":"观测值与实际值误差"},{"t":23.2,"v":950,"s":"观测值与实际值误差"},{"t":23.4,"v":900,"s":"观测值与实际值误差"},{"t":23.6,"v":1000,"s":"观测值与实际值误差"},{"t":23.8,"v":900,"s":"观测值与实际值误差"},{"t":24.0,"v":950,"s":"观测值与实际值误差"},{"t":24.2,"v":1100,"s":"观测值与实际值误差"},{"t":24.4,"v":1200,"s":"观测值与实际值误差"},{"t":24.6,"v":1050,"s":"观测值与实际值误差"},{"t":24.8,"v":1150,"s":"观测值与实际值误差"},{"t":25.0,"v":1100,"s":"观测值与实际值误差"},{"t":25.2,"v":1300,"s":"观测值与实际值误差"},{"t":25.4,"v":1050,"s":"观测值与实际值误差"},{"t":25.6,"v":1150,"s":"观测值与实际值误差"},{"t":25.8,"v":1000,"s":"观测值与实际值误差"},{"t":26.0,"v":950,"s":"观测值与实际值误差"},{"t":26.2,"v":1000,"s":"观测值与实际值误差"},{"t":26.4,"v":850,"s":"观测值与实际值误差"},{"t":26.6,"v":900,"s":"观测值与实际值误差"},{"t":26.8,"v":750,"s":"观测值与实际值误差"},{"t":27.0,"v":800,"s":"观测值与实际值误差"},{"t":27.2,"v":700,"s":"观测值与实际值误差"},{"t":27.4,"v":750,"s":"观测值与实际值误差"},{"t":27.6,"v":650,"s":"观测值与实际值误差"},{"t":27.8,"v":700,"s":"观测值与实际值误差"},{"t":28.0,"v":750,"s":"观测值与实际值误差"},{"t":28.2,"v":650,"s":"观测值与实际值误差"},{"t":28.4,"v":700,"s":"观测值与实际值误差"},{"t":28.6,"v":550,"s":"观测值与实际值误差"},{"t":28.8,"v":450,"s":"观测值与实际值误差"},{"t":29.0,"v":500,"s":"观测值与实际值误差"},{"t":29.2,"v":350,"s":"观测值与实际值误差"},{"t":29.4,"v":550,"s":"观测值与实际值误差"},{"t":29.6,"v":400,"s":"观测值与实际值误差"},{"t":29.8,"v":450,"s":"观测值与实际值误差"},{"t":30.0,"v":400,"s":"观测值与实际值误差"},

      {"t":0,"v":100,"s":"摩擦补偿"},{"t":0.2,"v":50,"s":"摩擦补偿"},{"t":0.4,"v":100,"s":"摩擦补偿"},{"t":0.6,"v":50,"s":"摩擦补偿"},{"t":0.8,"v":80,"s":"摩擦补偿"},{"t":0.92,"v":100,"s":"摩擦补偿"},{"t":0.96,"v":900,"s":"摩擦补偿"},{"t":1.05,"v":1000,"s":"摩擦补偿"},{"t":1.2,"v":900,"s":"摩擦补偿"},{"t":1.4,"v":950,"s":"摩擦补偿"},{"t":1.6,"v":850,"s":"摩擦补偿"},{"t":1.8,"v":1000,"s":"摩擦补偿"},{"t":2.0,"v":850,"s":"摩擦补偿"},{"t":2.2,"v":900,"s":"摩擦补偿"},{"t":2.4,"v":850,"s":"摩擦补偿"},{"t":2.6,"v":900,"s":"摩擦补偿"},{"t":2.8,"v":800,"s":"摩擦补偿"},{"t":3.0,"v":900,"s":"摩擦补偿"},{"t":3.2,"v":850,"s":"摩擦补偿"},{"t":3.3,"v":900,"s":"摩擦补偿"},{"t":3.4,"v":800,"s":"摩擦补偿"},{"t":3.6,"v":650,"s":"摩擦补偿"},{"t":3.8,"v":550,"s":"摩擦补偿"},{"t":4.0,"v":450,"s":"摩擦补偿"},{"t":4.2,"v":200,"s":"摩擦补偿"},{"t":4.3,"v":0,"s":"摩擦补偿"},{"t":4.4,"v":-100,"s":"摩擦补偿"},{"t":4.6,"v":-150,"s":"摩擦补偿"},{"t":4.8,"v":-50,"s":"摩擦补偿"},{"t":5.0,"v":-100,"s":"摩擦补偿"},{"t":5.2,"v":0,"s":"摩擦补偿"},{"t":5.4,"v":-50,"s":"摩擦补偿"},{"t":5.6,"v":0,"s":"摩擦补偿"},{"t":5.8,"v":-50,"s":"摩擦补偿"},{"t":6.0,"v":-100,"s":"摩擦补偿"},{"t":6.2,"v":-50,"s":"摩擦补偿"},{"t":6.4,"v":-200,"s":"摩擦补偿"},{"t":6.6,"v":-250,"s":"摩擦补偿"},{"t":6.8,"v":-100,"s":"摩擦补偿"},{"t":7.0,"v":-50,"s":"摩擦补偿"},{"t":7.2,"v":0,"s":"摩擦补偿"},{"t":7.4,"v":-100,"s":"摩擦补偿"},{"t":7.6,"v":-50,"s":"摩擦补偿"},{"t":7.8,"v":0,"s":"摩擦补偿"},{"t":8.0,"v":-100,"s":"摩擦补偿"},{"t":8.2,"v":-50,"s":"摩擦补偿"},{"t":8.4,"v":0,"s":"摩擦补偿"},{"t":8.6,"v":-100,"s":"摩擦补偿"},{"t":8.8,"v":-100,"s":"摩擦补偿"},{"t":9.0,"v":-150,"s":"摩擦补偿"},{"t":9.2,"v":-150,"s":"摩擦补偿"},{"t":9.4,"v":-200,"s":"摩擦补偿"},{"t":9.6,"v":-150,"s":"摩擦补偿"},{"t":9.8,"v":-200,"s":"摩擦补偿"},{"t":9.9,"v":-250,"s":"摩擦补偿"},{"t":10.0,"v":-500,"s":"摩擦补偿"},{"t":10.2,"v":-550,"s":"摩擦补偿"},{"t":10.4,"v":-450,"s":"摩擦补偿"},{"t":10.6,"v":-550,"s":"摩擦补偿"},{"t":10.8,"v":-450,"s":"摩擦补偿"},{"t":11.0,"v":-600,"s":"摩擦补偿"},{"t":11.2,"v":-450,"s":"摩擦补偿"},{"t":11.4,"v":-550,"s":"摩擦补偿"},{"t":11.6,"v":-500,"s":"摩擦补偿"},{"t":11.8,"v":-600,"s":"摩擦补偿"},{"t":12.0,"v":-500,"s":"摩擦补偿"},{"t":12.2,"v":-750,"s":"摩擦补偿"},{"t":12.4,"v":-500,"s":"摩擦补偿"},{"t":12.6,"v":-600,"s":"摩擦补偿"},{"t":12.8,"v":-550,"s":"摩擦补偿"},{"t":13.0,"v":-450,"s":"摩擦补偿"},{"t":13.2,"v":-600,"s":"摩擦补偿"},{"t":13.4,"v":-500,"s":"摩擦补偿"},{"t":13.6,"v":-550,"s":"摩擦补偿"},{"t":13.8,"v":-450,"s":"摩擦补偿"},{"t":14.0,"v":-550,"s":"摩擦补偿"},{"t":14.2,"v":-500,"s":"摩擦补偿"},{"t":14.4,"v":-600,"s":"摩擦补偿"},{"t":14.6,"v":-450,"s":"摩擦补偿"},{"t":14.8,"v":-550,"s":"摩擦补偿"},{"t":15.0,"v":-500,"s":"摩擦补偿"},{"t":15.2,"v":-450,"s":"摩擦补偿"},{"t":15.4,"v":-550,"s":"摩擦补偿"},{"t":15.6,"v":-450,"s":"摩擦补偿"},{"t":15.8,"v":-600,"s":"摩擦补偿"},{"t":16.0,"v":-450,"s":"摩擦补偿"},{"t":16.2,"v":-500,"s":"摩擦补偿"},{"t":16.4,"v":-400,"s":"摩擦补偿"},{"t":16.6,"v":-450,"s":"摩擦补偿"},{"t":16.8,"v":-400,"s":"摩擦补偿"},{"t":17.0,"v":-450,"s":"摩擦补偿"},{"t":17.2,"v":-350,"s":"摩擦补偿"},{"t":17.4,"v":-300,"s":"摩擦补偿"},{"t":17.6,"v":-200,"s":"摩擦补偿"},{"t":17.8,"v":-100,"s":"摩擦补偿"},{"t":17.9,"v":0,"s":"摩擦补偿"},{"t":18.0,"v":150,"s":"摩擦补偿"},{"t":18.1,"v":200,"s":"摩擦补偿"},{"t":18.2,"v":300,"s":"摩擦补偿"},{"t":18.3,"v":400,"s":"摩擦补偿"},{"t":18.5,"v":450,"s":"摩擦补偿"},{"t":18.7,"v":400,"s":"摩擦补偿"},{"t":18.9,"v":450,"s":"摩擦补偿"},{"t":19.1,"v":400,"s":"摩擦补偿"},{"t":19.3,"v":450,"s":"摩擦补偿"},{"t":19.4,"v":600,"s":"摩擦补偿"},{"t":19.5,"v":400,"s":"摩擦补偿"},{"t":19.7,"v":350,"s":"摩擦补偿"},{"t":19.9,"v":400,"s":"摩擦补偿"},{"t":20.1,"v":450,"s":"摩擦补偿"},{"t":20.3,"v":400,"s":"摩擦补偿"},{"t":20.5,"v":450,"s":"摩擦补偿"},{"t":20.7,"v":400,"s":"摩擦补偿"},{"t":20.9,"v":450,"s":"摩擦补偿"},{"t":21.1,"v":500,"s":"摩擦补偿"},{"t":21.3,"v":450,"s":"摩擦补偿"},{"t":21.5,"v":500,"s":"摩擦补偿"},{"t":21.7,"v":450,"s":"摩擦补偿"},{"t":21.9,"v":500,"s":"摩擦补偿"},{"t":22.1,"v":500,"s":"摩擦补偿"},{"t":22.3,"v":450,"s":"摩擦补偿"},{"t":22.5,"v":500,"s":"摩擦补偿"},{"t":22.7,"v":450,"s":"摩擦补偿"},{"t":22.9,"v":550,"s":"摩擦补偿"},{"t":23.0,"v":400,"s":"摩擦补偿"},{"t":23.2,"v":500,"s":"摩擦补偿"},{"t":23.4,"v":450,"s":"摩擦补偿"},{"t":23.6,"v":500,"s":"摩擦补偿"},{"t":23.8,"v":550,"s":"摩擦补偿"},{"t":24.0,"v":500,"s":"摩擦补偿"},{"t":24.1,"v":700,"s":"摩擦补偿"},{"t":24.3,"v":800,"s":"摩擦补偿"},{"t":24.5,"v":850,"s":"摩擦补偿"},{"t":24.7,"v":950,"s":"摩擦补偿"},{"t":24.9,"v":900,"s":"摩擦补偿"},{"t":25.1,"v":1000,"s":"摩擦补偿"},{"t":25.3,"v":900,"s":"摩擦补偿"},{"t":25.5,"v":950,"s":"摩擦补偿"},{"t":25.7,"v":850,"s":"摩擦补偿"},{"t":25.9,"v":900,"s":"摩擦补偿"},{"t":26.1,"v":800,"s":"摩擦补偿"},{"t":26.3,"v":850,"s":"摩擦补偿"},{"t":26.5,"v":800,"s":"摩擦补偿"},{"t":26.7,"v":750,"s":"摩擦补偿"},{"t":26.9,"v":850,"s":"摩擦补偿"},{"t":27.1,"v":700,"s":"摩擦补偿"},{"t":27.3,"v":800,"s":"摩擦补偿"},{"t":27.5,"v":700,"s":"摩擦补偿"},{"t":27.7,"v":900,"s":"摩擦补偿"},{"t":27.9,"v":750,"s":"摩擦补偿"},{"t":28.1,"v":800,"s":"摩擦补偿"},{"t":28.3,"v":700,"s":"摩擦补偿"},{"t":28.5,"v":900,"s":"摩擦补偿"},{"t":28.7,"v":750,"s":"摩擦补偿"},{"t":28.9,"v":1000,"s":"摩擦补偿"},{"t":29.0,"v":700,"s":"摩擦补偿"},{"t":29.2,"v":800,"s":"摩擦补偿"},{"t":29.4,"v":750,"s":"摩擦补偿"},{"t":29.6,"v":850,"s":"摩擦补偿"},{"t":29.8,"v":750,"s":"摩擦补偿"},{"t":30.0,"v":800,"s":"摩擦补偿"}
    ]
  },
  "spacing": 10,
  "vconcat": [
    {
      "width": 476, "height": 181,
      "title": "(a) 摩擦补偿前后齿条力观测结果",
      "data": {"name": "top"},
      "layer": [
        {
          "mark": {"type": "line", "strokeWidth": 1.5, "clip": true},
          "encoding": {
            "x": {"field": "t", "type": "quantitative", "scale": {"domain": [0, 30], "nice": false}, "axis": {"values": [0,5,10,15,20,25,30], "title": "时间/s", "titlePadding": 7}},
            "y": {"field": "v", "type": "quantitative", "scale": {"domain": [-5000, 10000], "nice": false}, "axis": {"values": [-5000, 0, 5000, 10000], "title": "齿条力/N", "titlePadding": 8, "labelExpr": "replace(replace(format(datum.value, ','), ',', ' '), '\u2212', '-')"}},
            "color": {"field": "s", "type": "nominal", "scale": {"domain": ["齿条力实际值", "摩擦补偿后的齿条力观测值", "基于转向动力学齿条力观测值"], "range": ["#000000", "#2ec82e", "#ff0000"]},
              "legend": {"title": null, "orient": "top-right", "offset": 8, "strokeColor": "#333333", "fillColor": "white", "padding": 4, "symbolType": "M-1,0H7", "symbolSize": 121, "symbolStrokeWidth": 1.5, "rowPadding": 5, "labelOffset": 38}},
            "strokeDash": {"field": "s", "type": "nominal", "scale": {"domain": ["齿条力实际值", "摩擦补偿后的齿条力观测值", "基于转向动力学齿条力观测值"], "range": [[4, 3], [1, 0], [1, 0]]},
              "legend": {"title": null, "orient": "top-right", "offset": 8, "strokeColor": "#333333", "fillColor": "white", "padding": 4, "symbolType": "M-1,0H7", "symbolSize": 121, "symbolStrokeWidth": 1.5, "rowPadding": 5, "labelOffset": 38}}
          }
        },
        {
          "mark": {"type": "line", "opacity": 0},
          "encoding": {
            "x": {"field": "t", "type": "quantitative", "axis": {"orient": "top", "values": [0,5,10,15,20,25,30], "labels": false, "title": null}},
            "y": {"field": "v", "type": "quantitative", "axis": {"orient": "right", "values": [-5000, 0, 5000, 10000], "labels": false, "title": null}}
          }
        }
      ],
      "resolve": {"axis": {"x": "independent", "y": "independent"}}
    },
    {
      "width": 476, "height": 181,
      "title": "(b) 误差与摩擦补偿",
      "data": {"name": "bottom"},
      "layer": [
        {
          "mark": {"type": "line", "strokeWidth": 1.5, "clip": true},
          "encoding": {
            "x": {"field": "t", "type": "quantitative", "scale": {"domain": [0, 30], "nice": false}, "axis": {"values": [0,5,10,15,20,25,30], "title": "时间/s", "titlePadding": 7}},
            "y": {"field": "v", "type": "quantitative", "scale": {"domain": [-1000, 2250], "nice": false}, "axis": {"values": [-1000, -500, 0, 500, 1000, 1500, 2000], "title": "误差/N", "titlePadding": 8, "labelExpr": "replace(replace(format(datum.value, ','), ',', ' '), '\u2212', '-')"}},
            "color": {"field": "s", "type": "nominal", "scale": {"domain": ["观测值与实际值误差", "摩擦补偿"], "range": ["#000000", "#2ec82e"]},
              "legend": {"title": null, "orient": "top-right", "offset": 8, "strokeColor": "#333333", "fillColor": "white", "padding": 6, "symbolType": "M-1,0H7", "symbolSize": 121, "symbolStrokeWidth": 1.5, "rowPadding": 5, "labelOffset": 38}},
            "strokeDash": {"field": "s", "type": "nominal", "scale": {"domain": ["观测值与实际值误差", "摩擦补偿"], "range": [[4, 3], [1, 0]]},
              "legend": {"title": null, "orient": "top-right", "offset": 8, "strokeColor": "#333333", "fillColor": "white", "padding": 6, "symbolType": "M-1,0H7", "symbolSize": 121, "symbolStrokeWidth": 1.5, "rowPadding": 5, "labelOffset": 38}}
          }
        },
        {
          "mark": {"type": "line", "opacity": 0},
          "encoding": {
            "x": {"field": "t", "type": "quantitative", "axis": {"orient": "top", "values": [0,5,10,15,20,25,30], "labels": false, "title": null}},
            "y": {"field": "v", "type": "quantitative", "axis": {"orient": "right", "values": [-1000, -500, 0, 500, 1000, 1500, 2000], "labels": false, "title": null}}
          }
        }
      ],
      "resolve": {"axis": {"x": "independent", "y": "independent"}}
    }
  ],
  "resolve": {"scale": {"color": "independent", "strokeDash": "independent"}, "legend": {"color": "independent", "strokeDash": "independent"}}
}
